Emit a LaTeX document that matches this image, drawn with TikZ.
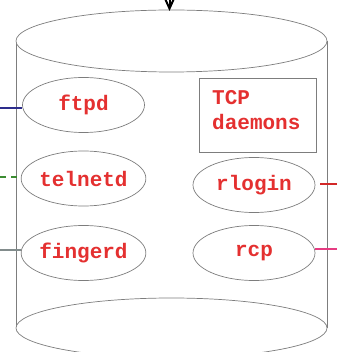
\documentclass[tikz,border=0pt]{standalone}
\usepackage{fontspec}
\setmonofont{Liberation Mono}
\usetikzlibrary{shapes.geometric,arrows.meta}
\definecolor{txtred}{RGB}{228,48,48}
\definecolor{shapegray}{RGB}{125,125,125}
\definecolor{lblue}{RGB}{45,45,140}
\definecolor{lgreen}{RGB}{60,140,50}
\definecolor{lgray}{RGB}{130,140,140}
\definecolor{lred}{RGB}{210,40,40}
\definecolor{lpink}{RGB}{230,60,130}
\tikzset{
  daemon/.style={ellipse, draw=shapegray, line width=0.7pt, minimum width=122pt, minimum height=55pt, inner sep=0pt,
    font=\ttfamily\bfseries\fontsize{21}{25}\selectfont, text=txtred},
  boxnode/.style={draw=shapegray, line width=0.9pt, minimum width=117pt, minimum height=74pt, inner sep=0pt},
  boxtext/.style={align=left, font=\ttfamily\bfseries\fontsize{21}{25}\selectfont, text=txtred, inner sep=0pt},
  cyl/.style={draw=shapegray, line width=0.7pt},
  conn/.style={line width=2pt},
}
\begin{document}
\begin{tikzpicture}[x=1pt,y=-1pt]
\useasboundingbox (0,0) rectangle (337,352);
% cylinder
\draw[cyl] (16,41) -- (16,328);
\draw[cyl] (327,41) -- (327,328);
\draw[cyl, fill=white] (171.5,328) ellipse [x radius=155.5, y radius=30];
\draw[cyl, fill=white] (171.5,41) ellipse [x radius=155.5, y radius=31];
% top arrow
\coordinate (topin) at (169.5,-12);
\coordinate (topend) at (169.5,11);
\draw[line width=2pt, -{Straight Barb[length=10pt,width=9pt]}] (topin) -- (topend);
% daemons
\node[daemon] (ftpd) at (83.5,105) {ftpd};
\node[daemon] (telnetd) at (83.5,178.5) {telnetd};
\node[daemon] (fingerd) at (83.5,253) {fingerd};
\node[daemon] (rlogin) at (254,185) {rlogin};
\node[daemon] (rcp) at (254,253) {rcp};
\node[boxnode] (tcp) at (257.5,115) {};
\node[boxtext, anchor=north west] (tcptext) at (212,90) {TCP\\daemons};
% connectors
\coordinate (ftpdout) at (0,108.5);
\coordinate (telout) at (0,177.5);
\coordinate (fingout) at (0,250);
\coordinate (rlogout) at (337,184);
\coordinate (rcpout) at (337,249);
\draw[conn, lblue] (ftpdout) -- (ftpd.west |- ftpdout);
\draw[conn, lgreen, dash pattern=on 6pt off 5pt] (telout) -- (telnetd.west |- telout);
\draw[conn, lgray] (fingout) -- (fingerd.west |- fingout);
\draw[conn, lred] (rlogout) -- (320,184);
\draw[conn, lpink] (rcpout) -- (rcp.east |- rcpout);
\end{tikzpicture}
\end{document}
